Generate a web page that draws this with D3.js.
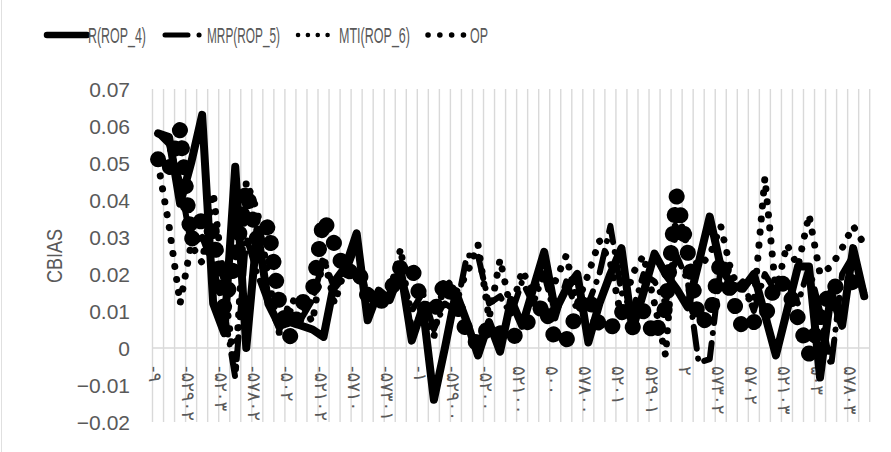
<!DOCTYPE html>
<html><head><meta charset="utf-8">
<script src="https://cdn.jsdelivr.net/npm/d3@7"></script>
<style>body{margin:0;background:#fff}svg{display:block}</style>
</head><body>
<svg id="c" width="891" height="452"></svg>
<script>
// ---- data ----
const tickLabels = ["-۹","-۵۲۹۰۲","-۵۲۰۳","-۵۷۸۰۲","-۵۰۲","-۵۲۱۰۲","-۵۷۱۰","-۵۷۳۰۱","-۱","-۵۲۹۰۰","-۵۲۰۰","۵۲۱۰۰","۵۰۰","۵۷۸۰۰","۵۲۰۱","۵۲۹۰۱","۲","۵۷۳۰۲","۵۷۰۲","۵۲۱۰۳","۵۰۳","۵۷۸۰۳"];
const R_ROP4 = [0.058,0.057,0.039,0.050,0.063,0.012,0.004,0.049,0.000,0.032,0.012,0.006,0.007,0.006,0.005,0.003,0.018,0.022,0.031,0.0075,0.0155,0.013,0.021,0.002,0.011,-0.014,0.000,0.015,0.007,-0.002,0.007,-0.001,0.013,0.006,0.016,0.026,0.010,0.016,0.020,0.0015,0.012,0.020,0.027,0.005,0.015,0.0255,0.020,0.016,0.011,0.023,0.0355,0.022,0.017,0.016,0.020,0.009,-0.002,0.010,0.022,0.022,-0.008,0.015,0.006,0.027,0.014];
const MRP_ROP5 = [0.058,0.055,0.045,0.028,0.030,0.022,0.010,-0.008,0.030,0.020,0.012,0.005,0.010,0.008,0.013,0.024,0.016,0.020,0.028,0.013,0.012,0.015,0.020,0.010,0.015,0.005,0.012,0.010,0.025,0.025,0.012,0.014,0.009,0.018,0.012,0.020,0.008,0.018,0.010,0.012,0.020,0.033,0.015,0.010,0.020,0.018,0.012,0.025,0.018,-0.004,-0.003,0.022,0.015,0.018,0.010,0.020,0.015,0.018,0.012,0.022,0.010,-0.005,0.020,0.025,0.015];
const MTI_ROP6 = [0.050,0.033,0.012,0.028,0.023,0.042,0.017,-0.007,0.045,0.037,0.019,0.004,0.013,0.012,0.007,0.025,0.012,0.022,0.020,0.016,0.013,0.015,0.027,0.004,0.010,0.003,0.019,0.015,0.020,0.028,0.008,0.024,0.010,0.021,0.015,0.022,0.018,0.025,0.012,0.020,0.029,0.023,0.008,0.020,0.025,0.012,-0.002,0.038,0.027,0.022,0.025,0.033,0.020,0.015,0.012,0.046,0.015,0.028,0.022,0.036,0.020,0.022,0.027,0.033,0.028];
const OP = [0.051,0.048,0.059,0.029,0.035,0.031,0.011,0.024,0.043,0.029,0.033,0.012,0.003,0.012,0.015,0.035,0.028,0.020,0.022,0.014,0.012,0.015,0.022,0.022,0.011,0.009,0.018,0.012,0.004,0.001,0.006,0.004,0.002,0.006,0.008,0.012,0.002,0.002,0.010,0.014,0.006,0.005,0.010,0.0055,0.010,0.003,0.011,0.041,0.026,0.007,0.008,0.024,0.014,0.005,0.007,0.008,0.018,0.017,0.008,-0.0015,0.008,0.017,0.016,0.018,0.017];
const yTicks = [-0.02,-0.01,0,0.01,0.02,0.03,0.04,0.05,0.06,0.07];
const seriesNames = ["R(ROP_4)","MRP(ROP_5)","MTI(ROP_6)","OP"];

// ---- layout ----
const svg = d3.select("#c");
const L = 152.5, Rr = 869.7, T = 89, B = 422;
const n = R_ROP4.length;
const x = d3.scaleBand().domain(d3.range(n)).range([L, Rr]);
const y = d3.scaleLinear().domain([-0.02, 0.07]).range([B, T]);
const cx = i => x(i) + x.bandwidth()/2;
const font = "'Liberation Sans', Arial, sans-serif";

// vertical gridlines
const g = svg.append("g");
g.selectAll("line.v").data(d3.range(n+1)).join("line")
  .attr("x1", i => L + i*x.bandwidth()).attr("x2", i => L + i*x.bandwidth())
  .attr("y1", T).attr("y2", B).attr("stroke", "#d9d9d9").attr("stroke-width", 1.4);
g.append("line").attr("x1", L).attr("x2", Rr).attr("y1", y(0)).attr("y2", y(0)).attr("stroke", "#d9d9d9").attr("stroke-width", 1.4);

// y axis labels
const yAxis = d3.axisLeft(y).tickValues(yTicks).tickSize(0).tickPadding(0)
  .tickFormat(d => d === 0 ? "0" : d3.format(".2f")(d));
const ya = svg.append("g").attr("transform", `translate(130,0)`).call(yAxis);
ya.select(".domain").remove();
ya.selectAll("text").attr("font-family", font).attr("font-size", 21).attr("fill", "#595959").attr("dy", "0.35em");

// axis title
svg.append("text").attr("transform", "translate(62,256) rotate(-90)").attr("text-anchor", "middle")
  .attr("font-family", font).attr("font-size", 22).attr("fill", "#595959")
  .attr("textLength", 54).attr("lengthAdjust", "spacingAndGlyphs").text("CBIAS");

// x tick labels (every 3rd category)
const xl = svg.append("g");
xl.selectAll("text").data(tickLabels).join("text")
  .attr("transform", (d, k) => `translate(${cx(k*3) - 9},366) rotate(90)`)
  .attr("font-family", "'DejaVu Sans', sans-serif").attr("font-size", 18).attr("letter-spacing", 4)
  .attr("fill", "#595959").text(d => d);

// series
const line = d3.line().x((d, i) => cx(i)).y(d => y(d));
const styles = [
  {data: R_ROP4, w: 8, dash: null},
  {data: MRP_ROP5, w: 6, dash: "22 10 0.1 10"},
  {data: MTI_ROP6, w: 7, dash: "0.1 13"},
  {data: OP, w: 16, dash: "0.1 19"}
];
const sg = svg.append("g");
styles.forEach(s => {
  sg.append("path").attr("d", line(s.data)).attr("fill", "none").attr("stroke", "#000")
    .attr("stroke-width", s.w).attr("stroke-linecap", "round").attr("stroke-linejoin", "round")
    .attr("stroke-dasharray", s.dash);
});

// legend
const lg = svg.append("g");
const legY = 35;
const keys = [
  {x1: 47, x2: 87, w: 6.5, dash: null, tx: 88, tl: 58},
  {x1: 165, x2: 200, w: 5, dash: "23 11 0.1 20", tx: 207, tl: 73},
  {x1: 298, x2: 337, w: 4.5, dash: "0.1 9.75", tx: 339, tl: 71},
  {x1: 428, x2: 463.5, w: 5.5, dash: "0.1 11.7", tx: 470, tl: 18}
];
keys.forEach((k, i) => {
  lg.append("line").attr("x1", k.x1).attr("x2", k.x2).attr("y1", legY).attr("y2", legY)
    .attr("stroke", "#000").attr("stroke-width", k.w).attr("stroke-linecap", "round").attr("stroke-dasharray", k.dash);
  lg.append("text").attr("x", k.tx).attr("y", legY + 8).attr("font-family", font).attr("font-size", 22)
    .attr("textLength", k.tl).attr("lengthAdjust", "spacingAndGlyphs")
    .attr("fill", "#595959").text(seriesNames[i]);
});
svg.append("line").attr("x1", 1.5).attr("x2", 1.5).attr("y1", 0).attr("y2", 452).attr("stroke", "#e0e0e0").attr("stroke-width", 1);
</script>
</body></html>
